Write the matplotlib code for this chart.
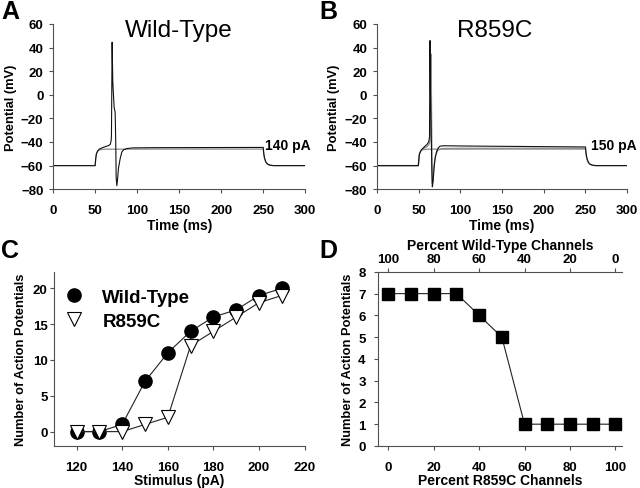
import numpy as np
import matplotlib
matplotlib.use("Agg")
import matplotlib.pyplot as plt

plt.rcParams['font.family'] = ['Liberation Sans', 'DejaVu Sans']

# ---- panel A: wild-type traces (ms, mV) ----
wt_sub_t = [0, 50, 50.7, 51.5, 53, 55, 58, 62, 120, 250, 250.5, 251.5, 253, 255, 258, 262, 300]
wt_sub_v = [-60, -60, -54, -50, -47.8, -46.8, -46.3, -46.1, -46, -46, -50, -54, -57, -58.8, -59.6, -60, -60]
wt_spk_t = [0, 50, 50.7, 51.5, 53, 55, 58, 62, 66, 68, 69, 69.4, 70.2, 71.0, 72.6, 73.8, 74.5,
            75.0, 75.8, 76.6, 77.8, 79.8, 81.7, 84, 88, 95, 120, 250, 250.5, 251.5, 253, 255,
            258, 262, 300]
wt_spk_v = [-60, -60, -54, -50, -47.5, -46, -45, -44, -43, -42, -39, -34.6, 44.5, 10.6, -10.6,
            -14.8, -40, -70, -77, -72, -62, -54, -48.5, -46.5, -45.5, -45, -44.8, -44.6, -49,
            -53.5, -56.8, -58.7, -59.6, -60, -60]

# ---- panel B: R859C traces ----
mut_sub_t = [0, 49.6, 50.3, 51, 52.5, 54, 57, 61, 120, 250, 250.5, 251.5, 253, 255, 258, 262, 300]
mut_sub_v = [-60, -60, -54, -50, -47.8, -46.8, -46.3, -46.1, -46, -46, -50, -54, -57, -58.8, -59.6, -60, -60]
mut_spk1_t = [0, 49.6, 50.3, 51, 52.5, 54, 57, 60, 62, 63, 63.6, 64.2, 65, 65.8, 66.4, 67.2,
              68.4, 69.6, 71.5, 73.5, 75.6, 80, 120, 250, 250.5, 251.5, 253, 255, 258, 262, 300]
mut_spk1_v = [-60, -60, -54, -50, -47.5, -46, -44, -42, -40, -36, 45.9, 0, -30, -65, -78, -74,
              -63, -54.4, -48, -45, -43.5, -43.2, -43.5, -44.2, -48.5, -53, -56.5, -58.6,
              -59.6, -60, -60]
mut_spk2_t = [0, 49.6, 50.3, 51, 52.5, 54, 57, 60, 62, 63.5, 64.2, 64.8, 65.3, 65.8, 66.3, 67,
              68, 70, 73, 78, 100, 250]
mut_spk2_v = [-60, -60, -54, -50, -47.5, -46.5, -45, -44, -42.5, -40, -30, 34.6, 0, -40, -75,
              -73, -62, -52, -47, -45.5, -45.3, -45.3]

# ---- panel C: action potentials vs stimulus ----
stim_pa = [120, 130, 140, 150, 160, 170, 180, 190, 200, 210]
ap_wt = [0, 0, 1, 7, 11, 14, 16, 17, 19, 20]
ap_mut = [0, 0, 0, 1, 2, 12, 14, 16, 18, 19]

# ---- panel D: action potentials vs % R859C ----
pct_mut = [0, 10, 20, 30, 40, 50, 60, 70, 80, 90, 100]
ap_mix = [7, 7, 7, 7, 6, 5, 1, 1, 1, 1, 1]

SPINE = '#505050'
TICK_FS = 9.5
XLAB_FS = 10
YLAB_FS = 9.3


def style_axes(ax, xpad=8, ypad=4):
    for side in ['top', 'right']:
        ax.spines[side].set_visible(False)
    for side in ['left', 'bottom']:
        ax.spines[side].set_color(SPINE)
        ax.spines[side].set_linewidth(0.8)
    ax.tick_params(direction='out', length=3, width=0.8, color=SPINE, labelsize=TICK_FS)
    ax.tick_params(axis='x', pad=xpad)
    ax.tick_params(axis='y', pad=ypad)
    for lab in ax.get_xticklabels() + ax.get_yticklabels():
        lab.set_fontweight('bold')


fig = plt.figure(figsize=(6.4, 4.89), dpi=100)

axA = fig.add_axes([0.083, 0.611, 0.394, 0.338])
axB = fig.add_axes([0.589, 0.611, 0.391, 0.338])
axC = fig.add_axes([0.084, 0.086, 0.392, 0.356])
axD = fig.add_axes([0.591, 0.086, 0.381, 0.356])

# A
axA.plot(wt_sub_t, wt_sub_v, color='#8c8c8c', lw=0.9)
axA.plot(wt_spk_t, wt_spk_v, color='#111111', lw=0.8)
axA.text(0.5, 1.03, 'Wild-Type', transform=axA.transAxes, fontsize=17.5,
         ha='center', va='top')
axA.text(252, -42.5, '140 pA', fontsize=10, fontweight='bold', ha='left', va='center')

# B
axB.plot(mut_sub_t, mut_sub_v, color='#8c8c8c', lw=0.9)
axB.plot(mut_spk2_t, mut_spk2_v, color='#8c8c8c', lw=0.9)
axB.plot(mut_spk1_t, mut_spk1_v, color='#111111', lw=0.8)
axB.text(0.47, 1.03, 'R859C', transform=axB.transAxes, fontsize=17.5,
         ha='center', va='top')
axB.text(257, -42.5, '150 pA', fontsize=10, fontweight='bold', ha='left', va='center')

for ax in (axA, axB):
    ax.set_xlim(0, 300)
    ax.set_ylim(-80, 60)
    ax.set_xticks(np.arange(0, 301, 50))
    ax.set_yticks(np.arange(-80, 61, 20))
    ax.set_xlabel('Time (ms)', fontsize=XLAB_FS, fontweight='bold', labelpad=1)
    ax.set_ylabel('Potential (mV)', fontsize=YLAB_FS, fontweight='bold', labelpad=3)
    style_axes(ax)

# C
axC.plot(stim_pa, ap_wt, color='#222222', lw=0.8, marker='o', ms=9.5,
         mfc='black', mec='black', label='Wild-Type')
axC.plot(stim_pa, ap_mut, color='#222222', lw=0.8, marker='v', ms=10,
         mfc='white', mec='black', mew=0.8, label='R859C')
axC.set_xlim(110, 220)
axC.set_ylim(-2, 22.3)
axC.set_xticks(np.arange(120, 221, 20))
axC.set_yticks(np.arange(0, 21, 5))
axC.set_xlabel('Stimulus (pA)', fontsize=XLAB_FS, fontweight='bold', labelpad=0)
axC.set_ylabel('Number of Action Potentials', fontsize=YLAB_FS, fontweight='bold', labelpad=4)
style_axes(axC, ypad=1.5)
leg = axC.legend(loc='upper left', bbox_to_anchor=(-0.03, 1.0), frameon=False,
                 prop={'size': 13.5, 'weight': 'bold'}, handlelength=1.2,
                 handletextpad=0.9, labelspacing=0.35)
for h in leg.legend_handles:
    h.set_linestyle('none')

# D
axD.plot(pct_mut, ap_mix, color='#222222', lw=0.8, marker='s', ms=8,
         mfc='black', mec='black')
axD.set_xlim(-4.5, 103)
axD.set_ylim(0, 8)
axD.set_xticks(np.arange(0, 101, 20))
axD.set_yticks(np.arange(0, 9, 1))
axD.set_xlabel('Percent R859C Channels', fontsize=XLAB_FS, fontweight='bold', labelpad=0)
axD.set_ylabel('Number of Action Potentials', fontsize=YLAB_FS, fontweight='bold', labelpad=3)
style_axes(axD, ypad=6)
top = axD.secondary_xaxis('top', functions=(lambda x: 100 - x, lambda x: 100 - x))
top.set_xticks(np.arange(0, 101, 20))
top.spines['top'].set_color(SPINE)
top.spines['top'].set_linewidth(0.8)
top.tick_params(direction='out', length=3, width=0.8, color=SPINE, labelsize=TICK_FS, pad=2)
for lab in top.get_xticklabels():
    lab.set_fontweight('bold')
top.set_xlabel('Percent Wild-Type Channels', fontsize=XLAB_FS, fontweight='bold', labelpad=3)

# panel letters
for x, y, s in [(0.002, 1.0, 'A'), (0.499, 1.0, 'B'), (0.002, 0.512, 'C'), (0.499, 0.512, 'D')]:
    fig.text(x, y, s, fontsize=18, fontweight='bold', ha='left', va='top')

fig.savefig('out.png', dpi=100)
